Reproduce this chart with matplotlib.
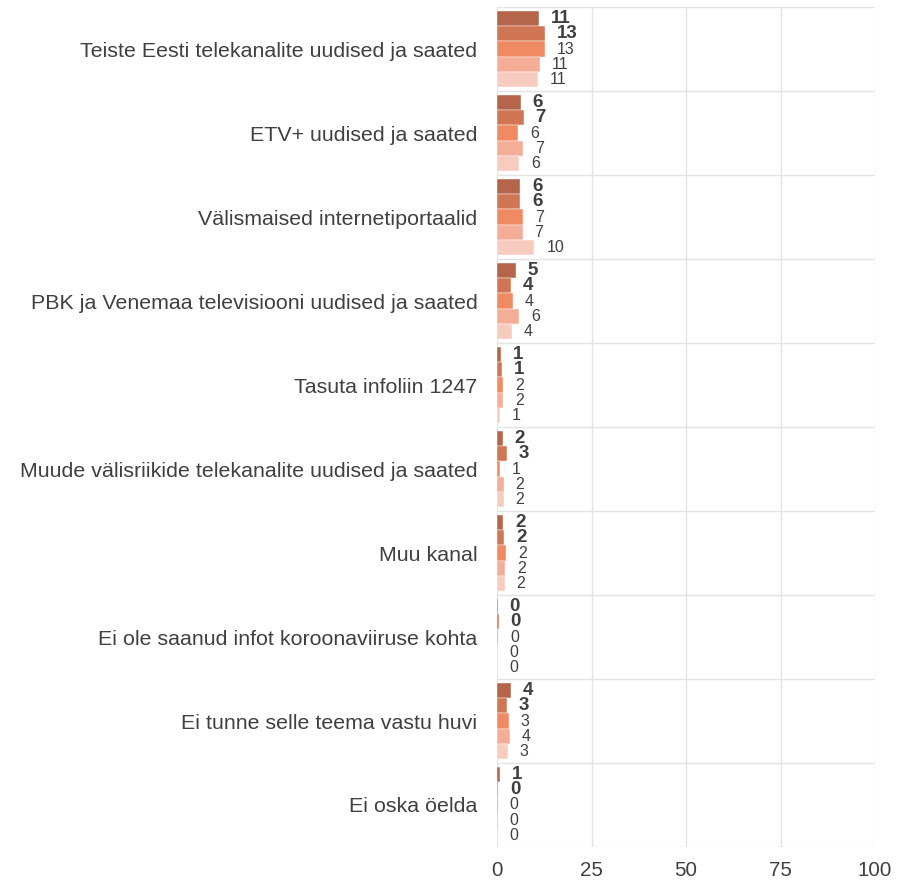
import numpy as np
from matplotlib import pyplot as plt

plt.rcParams['font.family'] = ['Liberation Sans', 'DejaVu Sans']

categories = [
    "Teiste Eesti telekanalite uudised ja saated",
    "ETV+ uudised ja saated",
    "Välismaised internetiportaalid",
    "PBK ja Venemaa televisiooni uudised ja saated",
    "Tasuta infoliin 1247",
    "Muude välisriikide telekanalite uudised ja saated",
    "Muu kanal",
    "Ei ole saanud infot koroonaviiruse kohta",
    "Ei tunne selle teema vastu huvi",
    "Ei oska öelda",
]

# five series per category, top to bottom inside each group
series_1 = [11.2, 6.3, 6.1, 4.9, 1.1, 1.5, 1.7, 0.2, 3.7, 0.7]
series_2 = [12.8, 7.1, 6.2, 3.6, 1.3, 2.7, 1.9, 0.4, 2.6, 0.3]
series_3 = [12.6, 5.6, 6.9, 4.3, 1.6, 0.8, 2.5, 0.3, 3.2, 0.2]
series_4 = [11.4, 7.0, 6.8, 5.9, 1.7, 1.8, 2.2, 0.1, 3.5, 0.2]
series_5 = [10.9, 5.9, 9.9, 3.9, 0.9, 1.8, 2.0, 0.1, 2.8, 0.1]
all_series = [series_1, series_2, series_3, series_4, series_5]

colors = ["#b4654a", "#d17654", "#ef8a62", "#f4ad97", "#f8cbbf"]
bold_series = [True, True, False, False, False]

x_ticks = [0, 25, 50, 75, 100]

fig = plt.figure(figsize=(9.06, 8.81), dpi=100)
ax = fig.add_axes([0.5486, 0.0386, 0.4172, 0.9534])

n_cat = len(categories)
bar_h = 0.18
group_pos = np.arange(n_cat)
text_col = "#404040"

for i, (vals, col) in enumerate(zip(all_series, colors)):
    y = group_pos + (i - 2) * bar_h
    ax.barh(y, vals, height=bar_h, color=col, edgecolor="white", linewidth=0.3, zorder=3)
    for yy, v in zip(y, vals):
        ax.annotate(f"{round(v):d}", xy=(v, yy), xytext=(8.5, 0), textcoords="offset points",
                    va="center", ha="left", color=text_col,
                    fontsize=13.5 if bold_series[i] else 11.5,
                    fontweight="bold" if bold_series[i] else "normal")

ax.set_xlim(0, 100)
ax.set_ylim(n_cat - 0.5, -0.5)
ax.set_xticks(x_ticks)
ax.set_xticklabels([str(t) for t in x_ticks], fontsize=14.8, color=text_col)
ax.set_yticks(group_pos)
ax.set_yticklabels(categories, fontsize=15.4, color=text_col)
ax.tick_params(axis="both", length=0)
ax.tick_params(axis="y", pad=14)
ax.tick_params(axis="x", pad=10)

for xv in x_ticks:
    ax.axvline(xv, color="#e3e3e3", linewidth=1, zorder=0)
for b in np.arange(-0.5, n_cat, 1.0):
    ax.axhline(b, color="#e3e3e3", linewidth=1, zorder=0)

for s in ax.spines.values():
    s.set_visible(False)

fig.savefig("out.png", dpi=100)
